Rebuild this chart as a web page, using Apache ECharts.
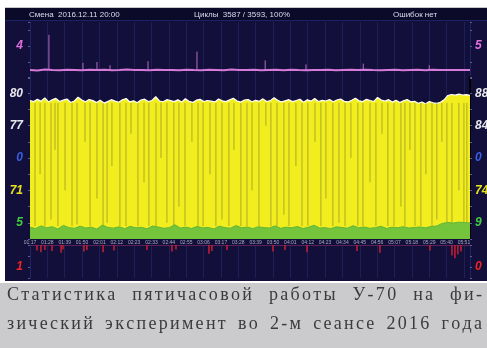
<!DOCTYPE html>
<html><head><meta charset="utf-8">
<script src="https://cdn.jsdelivr.net/npm/echarts@6.0.0/dist/echarts.min.js"></script>
<style>html,body{margin:0;padding:0;background:#fff;}#c{width:487px;height:348px;}</style>
</head><body><div id="c"></div><script>
// ---------- data ----------
const timeLabels = ['01:17','01:28','01:39','01:50','02:01','02:12','02:23','02:33','02:44','02:55','03:06','03:17','03:28','03:39','03:50','04:01','04:12','04:23','04:34','04:45','04:56','05:07','05:18','05:29','05:40','05:51'];
const X_MAX = 25.35;

const headerTexts = ['Смена  2016.12.11 20:00', 'Циклы  3587 / 3593, 100%', 'Ошибок нет'];
const captionLines = ['Статистика пятичасовой работы У-70 на фи-', 'зический эксперимент во 2-м сеансе 2016 года'];

// top (purple) channel
const topLeftLabel = '4', topRightLabel = '5', topLabelValue = 4;
const purpleLine = [1.0,0.95,1.05,1.0,0.98,1.03,1.0,0.96,1.04,1.0,1.02,0.97,1.0,1.05,0.99,1.0,0.96,1.03,1.0,1.01,0.97,1.04,1.0,0.98,1.02,1.0,0.96,1.05,1.0,0.99,1.03,0.97,1.0,1.02,0.98,1.04,1.0,0.97,1.01,1.0,1.03,0.96,1.0,1.02,0.99,1.04,1.0,0.97,1.0,1.03,0.98,1.0,1.02,0.96,1.04,1.0,0.99,1.01,1.0,1.0];
const PURPLE_BASE = 1.0;
const purpleSpikeX = [1.09, 3.05, 3.86, 4.61, 6.80, 9.62, 13.55, 15.90, 19.20, 23.00];
const purpleSpikeV = [5.4, 1.9, 2.0, 1.6, 2.1, 3.3, 2.2, 1.7, 1.8, 1.6];

// main channels
const mainLabelValues = [10, 30, 50, 70, 90];
const mainLeftLabels = ['5', '71', '0', '77', '80'];
const mainRightLabels = ['9', '74', '0', '84', '88'];
const yellowTop = [85.5,84.8,86.2,85.0,87.1,84.6,85.9,86.8,84.9,85.7,
86.4,84.3,85.2,87.5,85.8,84.7,86.1,85.4,84.2,85.6,
83.9,84.8,86.0,85.1,84.4,85.9,86.7,84.6,85.3,84.1,
85.8,86.3,84.9,85.5,87.8,85.2,84.7,86.0,85.4,84.8,
85.9,84.5,86.6,85.0,84.3,85.7,86.2,84.9,85.5,85.1,
84.6,86.4,85.3,84.8,85.9,86.9,85.2,84.5,85.8,86.1,
84.7,85.6,85.0,86.5,84.9,85.4,87.2,85.7,84.6,85.3,
86.0,84.8,85.5,86.3,84.4,85.9,85.1,86.7,84.9,85.6,
85.2,86.1,84.7,85.8,86.4,85.0,84.6,85.7,86.9,85.3,
84.8,86.2,85.5,84.9,87.4,85.8,85.1,86.0,84.5,85.6,
84.2,85.3,86.1,84.7,85.0,83.8,84.6,83.5,84.9,84.1,
83.7,84.4,85.9,88.6,89.2,88.8,89.4,88.9,89.1,88.7];
const greenTop = [7.2,6.5,8.1,6.9,7.6,6.2,8.4,7.0,6.6,7.9,
6.8,7.3,6.1,8.6,7.1,6.7,7.5,6.4,7.8,6.9,
7.2,6.3,8.0,7.4,6.6,7.0,8.8,6.8,7.3,6.5,
7.7,6.9,7.1,6.2,7.9,7.0,6.7,8.3,6.9,7.4,
6.4,7.6,7.0,6.8,8.1,6.6,7.3,6.9,7.7,6.5,
7.2,8.5,6.8,7.0,6.4,7.5,7.1,6.7,8.2,6.9,
7.4,6.6,7.0,7.8,6.5,7.3,6.9,7.6,6.8,7.1,
7.4,6.9,7.7,8.0,9.6,10.2,9.8,10.4,10.1,9.9];
const DIP_TOP = 84;
const dipX = [0.29,0.58,0.86,1.21,1.44,1.61,2.02,2.42,2.71,3.17,3.46,3.86,4.21,4.44,4.72,5.18,5.53,5.82,6.22,6.57,6.85,7.26,7.55,7.89,8.29,8.58,8.93,9.33,9.68,9.97,
10.37,10.71,11.06,11.46,11.75,12.15,12.50,12.79,13.19,13.59,13.88,14.23,14.63,14.92,15.32,15.67,16.01,16.42,16.76,17.05,17.45,17.80,18.15,18.49,18.89,19.18,19.59,19.93,20.28,20.62,
20.97,21.37,21.60,21.89,22.18,22.52,22.81,23.16,23.44,23.73,24.02,24.31,24.71,25.00,25.17];
const dipLow = [8,40,8,12,55,8,30,8,9,60,8,25,8,10,45,8,8,65,8,35,8,8,50,10,8,20,8,60,8,8,
40,8,12,8,55,8,8,30,8,70,8,8,15,8,45,8,8,60,8,25,8,10,8,50,8,8,35,8,65,8,
8,20,8,55,8,8,40,8,12,60,8,8,30,8,10];

// bottom (red) channel
const bottomLeftLabel = '1', bottomRightLabel = '0', bottomLabelValue = 4;
const redSpikeX = [0.40,0.63,0.86,1.27,1.79,1.90,3.11,3.28,4.21,4.84,6.74,8.18,8.41,10.31,10.48,11.35,14.00,14.69,15.96,18.84,20.16,23.04,24.31,24.48,24.65,24.83];
const redSpikeV = [1.0,1.3,0.9,1.1,1.4,0.8,1.2,0.9,1.3,1.0,0.9,1.2,0.8,1.6,1.1,0.9,1.2,0.9,1.3,1.1,1.4,1.0,1.9,2.4,1.7,1.2];

// ---------- build ----------
const seq = vals => vals.map((v, i) => [i * X_MAX / (vals.length - 1), v]);
const segRender = (color, width) => (params, api) => {
  const x = api.value(0);
  const p1 = api.coord([x, api.value(1)]);
  const p2 = api.coord([x, api.value(2)]);
  return {type: 'line', shape: {x1: p1[0], y1: p1[1], x2: p2[0], y2: p2[1]}, style: {stroke: color, lineWidth: width}};
};
const LBL_FONT = {fontSize: 12, fontWeight: 'bold', fontStyle: 'italic', fontFamily: 'Liberation Sans'};
const GRID_LINE = 'rgba(45,50,125,0.45)';
const AXIS_LINE = '#1f2462';

function yAx(grid, pos, min, max, interval, labelFn, color, opts) {
  return Object.assign({
    type: 'value', gridIndex: grid, position: pos, min, max, interval,
    axisLine: {show: true, lineStyle: {color: AXIS_LINE, width: 1}},
    axisTick: {show: true, length: 2, lineStyle: {color: '#5a5e92'}},
    splitLine: {show: false},
    axisLabel: Object.assign({color, margin: pos === 'left' ? 7 : 5, formatter: labelFn}, LBL_FONT)
  }, opts || {});
}
function xAx(grid, opts) {
  return Object.assign({
    type: 'value', gridIndex: grid, min: 0, max: X_MAX, interval: 1,
    axisLine: {show: false}, axisTick: {show: false}, axisLabel: {show: false},
    splitLine: {show: true, lineStyle: {color: GRID_LINE, width: 1}}
  }, opts || {});
}
const mainRich = {};
const mainColors = ['#43cc3f', '#e6e21e', '#3a5fe0', '#e8e8ee', '#e8e8ee'];
mainColors.forEach((c, i) => { mainRich['c' + i] = Object.assign({color: c}, LBL_FONT); });
const mainFmt = labels => v => { const k = mainLabelValues.indexOf(Math.round(v)); return k < 0 ? '' : '{c' + k + '|' + labels[k] + '}'; };

// caption glyph layout (justified, letter spaced)
const CAP_FONT = '18px "Liberation Serif"';
const CAP_LEFT = 7, CAP_RIGHT = 482, LS = 2.3;
const mctx = document.createElement('canvas').getContext('2d');
mctx.font = CAP_FONT;
function captionEls(line, y) {
  const chars = Array.from(line);
  const w = chars.map(c => mctx.measureText(c).width);
  const spaces = chars.filter(c => c === ' ').length;
  const total = w.reduce((a, b) => a + b, 0) + LS * (chars.length - 1);
  const extra = (CAP_RIGHT - CAP_LEFT - total) / Math.max(spaces, 1);
  let x = CAP_LEFT; const els = [];
  chars.forEach((c, i) => {
    if (c !== ' ') els.push({type: 'text', x, y, z: 100, silent: true,
      style: {text: c, font: CAP_FONT, fill: '#3b3b3b', textVerticalAlign: 'middle'}});
    x += w[i] + LS + (c === ' ' ? extra : 0);
  });
  return els;
}

const graphicEls = [
  {type: 'rect', z: -100, silent: true, shape: {x: 5, y: 7, width: 482, height: 1}, style: {fill: '#c9c9cc'}},
  {type: 'rect', z: -100, silent: true, shape: {x: 5, y: 8, width: 482, height: 273}, style: {fill: '#12103a'}},
  {type: 'rect', z: -99, silent: true, shape: {x: 5, y: 8, width: 482, height: 12}, style: {fill: '#0b0a29'}},
  {type: 'rect', z: -99, silent: true, shape: {x: 5, y: 20, width: 482, height: 1}, style: {fill: '#1d2266'}},
  {type: 'rect', z: -100, silent: true, shape: {x: 0, y: 283, width: 487, height: 65}, style: {fill: '#cbcbcd'}},
  {type: 'text', z: 100, silent: true, x: 29, y: 14.5, style: {text: headerTexts[0], font: '8px "Liberation Sans"', fill: '#dcdcee', textVerticalAlign: 'middle'}},
  {type: 'text', z: 100, silent: true, x: 194, y: 14.5, style: {text: headerTexts[1], font: '8px "Liberation Sans"', fill: '#dcdcee', textVerticalAlign: 'middle'}},
  {type: 'text', z: 100, silent: true, x: 393, y: 14.5, style: {text: headerTexts[2], font: '8px "Liberation Sans"', fill: '#dcdcee', textVerticalAlign: 'middle'}}
].concat(captionEls(captionLines[0], 295), captionEls(captionLines[1], 324));

const option = {
  animation: false,
  backgroundColor: '#ffffff',
  graphic: {elements: graphicEls},
  grid: [
    {left: 30, right: 17, top: 22, height: 56, containLabel: false, outerBoundsMode: 'none'},
    {left: 30, right: 17, top: 77, height: 162, containLabel: false, outerBoundsMode: 'none'},
    {left: 30, right: 17, top: 245, height: 33, containLabel: false, outerBoundsMode: 'none'}
  ],
  xAxis: [
    xAx(0),
    xAx(1, {axisLabel: {show: true, fontSize: 5, color: '#a8aac0', margin: 1, showMaxLabel: false,
      fontFamily: 'Liberation Sans',
      formatter: v => { const k = Math.round(v); return Math.abs(v - k) < 1e-6 && timeLabels[k] ? timeLabels[k] : ''; }}}),
    xAx(2, {position: 'top', axisLine: {show: true, onZero: false, lineStyle: {color: '#5c2154', width: 1}}})
  ],
  yAxis: [
    yAx(0, 'left', 0, 7, 2, v => v === topLabelValue ? topLeftLabel : '', '#e070e0'),
    yAx(0, 'right', 0, 7, 2, v => v === topLabelValue ? topRightLabel : '', '#e070e0'),
    yAx(1, 'left', 0, 100, 10, mainFmt(mainLeftLabels), '#fff', {axisLabel: Object.assign({margin: 7, formatter: mainFmt(mainLeftLabels), rich: mainRich}, LBL_FONT)}),
    yAx(1, 'right', 0, 100, 10, mainFmt(mainRightLabels), '#fff', {axisLine: {show: true, lineStyle: {color: '#000000', width: 2}}, axisLabel: Object.assign({margin: 5, formatter: mainFmt(mainRightLabels), rich: mainRich}, LBL_FONT)}),
    yAx(2, 'left', 0, 6, 2, v => v === bottomLabelValue ? bottomLeftLabel : '', '#f02424', {inverse: true}),
    yAx(2, 'right', 0, 6, 2, v => v === bottomLabelValue ? bottomRightLabel : '', '#f02424', {inverse: true})
  ],
  series: [
    {type: 'line', xAxisIndex: 0, yAxisIndex: 0, data: seq(purpleLine), symbol: 'none', z: 3,
      lineStyle: {color: '#d57ad8', width: 2}},
    {type: 'custom', xAxisIndex: 0, yAxisIndex: 0, z: 2,
      data: purpleSpikeX.map((x, i) => [x, PURPLE_BASE, purpleSpikeV[i]]),
      renderItem: segRender('#b86ac8', 1)},
    {type: 'line', xAxisIndex: 1, yAxisIndex: 2, data: seq(yellowTop), symbol: 'none', z: 2,
      lineStyle: {color: '#ffffff', width: 1.2}, areaStyle: {color: '#f1ed1f', opacity: 1}},
    {type: 'custom', xAxisIndex: 1, yAxisIndex: 2, z: 3,
      data: dipX.map((x, i) => [x, dipLow[i], DIP_TOP]),
      renderItem: segRender('rgba(80,80,40,0.42)', 1)},
    {type: 'line', xAxisIndex: 1, yAxisIndex: 2, data: seq(greenTop), symbol: 'none', z: 4,
      lineStyle: {color: '#5fb634', width: 1}, areaStyle: {color: '#74c53c', opacity: 1}},
    {type: 'custom', xAxisIndex: 2, yAxisIndex: 4, z: 3,
      data: redSpikeX.map((x, i) => [x, 0, redSpikeV[i]]),
      renderItem: segRender('#c81f35', 1.5)}
  ]
};
const chart = echarts.init(document.getElementById('c'), null, {renderer: 'canvas'});
chart.setOption(option);
</script></body></html>
